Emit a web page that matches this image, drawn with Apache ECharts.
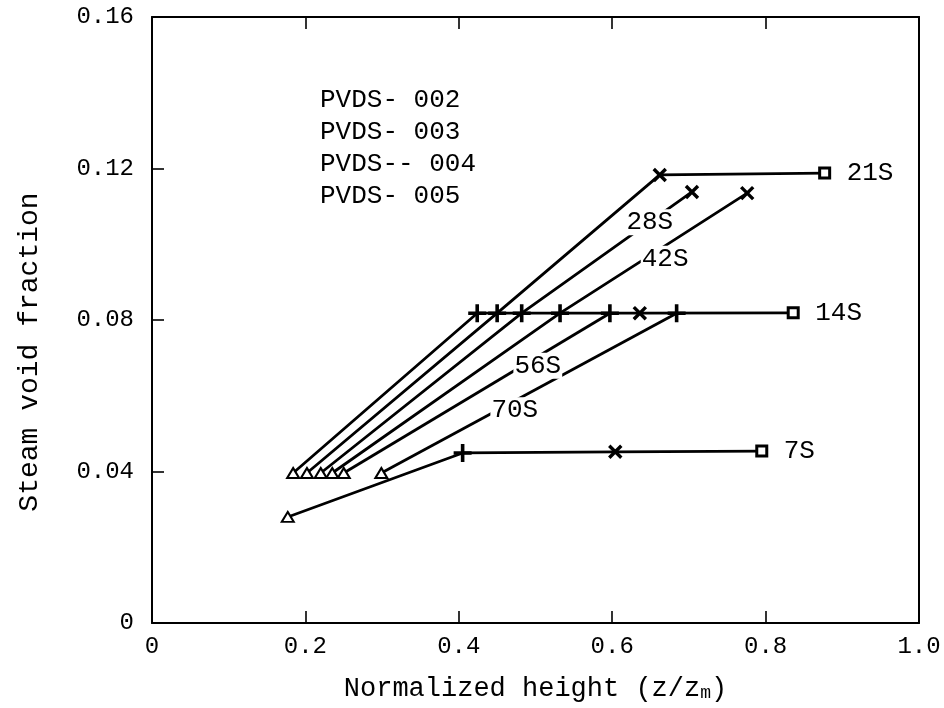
<!DOCTYPE html>
<html>
<head>
<meta charset="utf-8">
<script src="https://cdn.jsdelivr.net/npm/echarts@6/dist/echarts.min.js"></script>
<style>html,body{margin:0;padding:0;background:#fff;}#c{width:944px;height:708px;}</style>
</head>
<body>
<div id="c"></div>
<script>
// ---- data ----
const timeCategories = ['7S', '14S', '21S', '28S', '42S', '56S', '70S'];
const gaugeNames = ['PVDS- 002', 'PVDS- 003', 'PVDS-- 004', 'PVDS- 005'];
// marker per point: T = PVDS-005 (triangle), P = PVDS-004 (plus), X = PVDS-003 (cross), S = PVDS-002 (square)
const h7S  = [0.177, 0.405, 0.604, 0.795];
const v7S  = [0.0280, 0.0449, 0.0452, 0.0454];
const m7S  = ['T', 'P', 'X', 'S'];
const h14S = [0.184, 0.424, 0.636, 0.836];
const v14S = [0.0396, 0.0818, 0.0818, 0.0819];
const m14S = ['T', 'P', 'X', 'S'];
const h21S = [0.202, 0.450, 0.662, 0.877];
const v21S = [0.0396, 0.0818, 0.1183, 0.1188];
const m21S = ['T', 'P', 'X', 'S'];
const h28S = [0.220, 0.482, 0.704];
const v28S = [0.0396, 0.0818, 0.1138];
const m28S = ['T', 'P', 'X'];
const h42S = [0.235, 0.532, 0.776];
const v42S = [0.0396, 0.0818, 0.1135];
const m42S = ['T', 'P', 'X'];
const h56S = [0.250, 0.597];
const v56S = [0.0396, 0.0818];
const m56S = ['T', 'P'];
const h70S = [0.299, 0.684];
const v70S = [0.0396, 0.0818];
const m70S = ['T', 'P'];
// in-plot time labels (anchor in data coordinates)
const innerLabelNames = ['28S', '42S', '56S', '70S'];
const innerLabelH = [0.649, 0.669, 0.503, 0.473];
const innerLabelV = [0.1058, 0.0962, 0.0679, 0.0562];
const xTicks = [0, 0.2, 0.4, 0.6, 0.8, 1.0];
const yTicks = [0, 0.04, 0.08, 0.12, 0.16];

// ---- build ----
const FONT = 'Liberation Mono';
const plusPath = 'path://M8,0h4v20h-4zM0,8h20v4h-20z';
const markerStyle = {
  T: {symbol: 'triangle', symbolSize: [12, 10], symbolRotate: 0, itemStyle: {color: '#fff', borderColor: '#000', borderWidth: 2}},
  P: {symbol: plusPath, symbolSize: 18, symbolRotate: 0, itemStyle: {color: '#000', borderWidth: 0}},
  X: {symbol: plusPath, symbolSize: 17, symbolRotate: 45, itemStyle: {color: '#000', borderWidth: 0}},
  S: {symbol: 'rect', symbolSize: 10, symbolRotate: 0, itemStyle: {color: '#fff', borderColor: '#000', borderWidth: 3}}
};
const curves = [
  [h7S, v7S, m7S], [h14S, v14S, m14S], [h21S, v21S, m21S], [h28S, v28S, m28S],
  [h42S, v42S, m42S], [h56S, v56S, m56S], [h70S, v70S, m70S]
];
const endLabelled = {'7S': true, '14S': true, '21S': true};
const series = curves.map((c, k) => {
  const name = timeCategories[k];
  return {
    name: name,
    type: 'line',
    z: 3,
    showSymbol: true,
    lineStyle: {color: '#000', width: 2.8},
    data: c[0].map((x, i) => Object.assign({value: [x, c[1][i]]}, markerStyle[c[2][i]])),
    endLabel: endLabelled[name] ? {
      show: true, formatter: name, distance: 22,
      fontFamily: FONT, fontSize: 26, color: '#000'
    } : {show: false}
  };
});
series.push({
  type: 'scatter',
  z: 5,
  symbolSize: 0,
  itemStyle: {opacity: 1},
  data: innerLabelNames.map((n, i) => ({name: n, value: [innerLabelH[i], innerLabelV[i]]})),
  label: {
    show: true, position: 'inside', formatter: p => p.name,
    fontFamily: FONT, fontSize: 26, color: '#000', opacity: 1,
    backgroundColor: '#fff', padding: [0, 1, 0, 1]
  },
  silent: true
});

const axisLbl = {fontFamily: FONT, fontSize: 24, color: '#000'};
const option = {
  animation: false,
  backgroundColor: '#fff',
  grid: {left: 152, right: 25, top: 17, bottom: 85, containLabel: false},
  xAxis: [{
    type: 'value', min: xTicks[0], max: xTicks[xTicks.length - 1], interval: 0.2,
    axisLine: {show: true, onZero: false, lineStyle: {color: '#000', width: 2}},
    axisTick: {show: true, inside: true, length: 12, lineStyle: {color: '#000', width: 1.6}},
    splitLine: {show: false},
    axisLabel: Object.assign({margin: 12, formatter: v => v === 0 ? '0' : v.toFixed(1)}, axisLbl),
    name: 'Normalized height (z/z{s|m})',
    nameLocation: 'middle', nameGap: 52,
    nameTextStyle: {fontFamily: FONT, fontSize: 27, color: '#000',
      rich: {s: {fontFamily: FONT, fontSize: 18, color: '#000', verticalAlign: 'bottom', padding: [9, 0, 0, 0]}}}
  }, {
    type: 'value', position: 'top', min: 0, max: 1, interval: 0.2,
    axisLine: {show: true, onZero: false, lineStyle: {color: '#000', width: 2}},
    axisTick: {show: true, inside: true, length: 12, lineStyle: {color: '#000', width: 1.6}},
    axisLabel: {show: false}, splitLine: {show: false}
  }],
  yAxis: [{
    type: 'value', min: yTicks[0], max: yTicks[yTicks.length - 1], interval: 0.04,
    axisLine: {show: true, onZero: false, lineStyle: {color: '#000', width: 2}},
    axisTick: {show: true, inside: true, length: 12, lineStyle: {color: '#000', width: 1.6}},
    splitLine: {show: false},
    axisLabel: Object.assign({margin: 18, formatter: v => v === 0 ? '0' : v.toFixed(2)}, axisLbl)
  }, {
    type: 'value', position: 'right', min: 0, max: 0.16, interval: 0.04,
    axisLine: {show: true, onZero: false, lineStyle: {color: '#000', width: 2}},
    axisTick: {show: false}, axisLabel: {show: false}, splitLine: {show: false}
  }],
  graphic: gaugeNames.map((g, i) => ({
    type: 'text', left: 320, top: 87 + i * 32,
    style: {text: g, fontFamily: FONT, fontSize: 26, fill: '#000'}
  })).concat([{
    type: 'text', x: 30, y: 352, rotation: Math.PI / 2,
    style: {text: 'Steam void fraction', fontFamily: FONT, fontSize: 28, fill: '#000',
      textAlign: 'center', textVerticalAlign: 'middle'}
  }]),
  series: series
};
const chart = echarts.init(document.getElementById('c'), null, {renderer: 'canvas'});
chart.setOption(option);
</script>
</body>
</html>
